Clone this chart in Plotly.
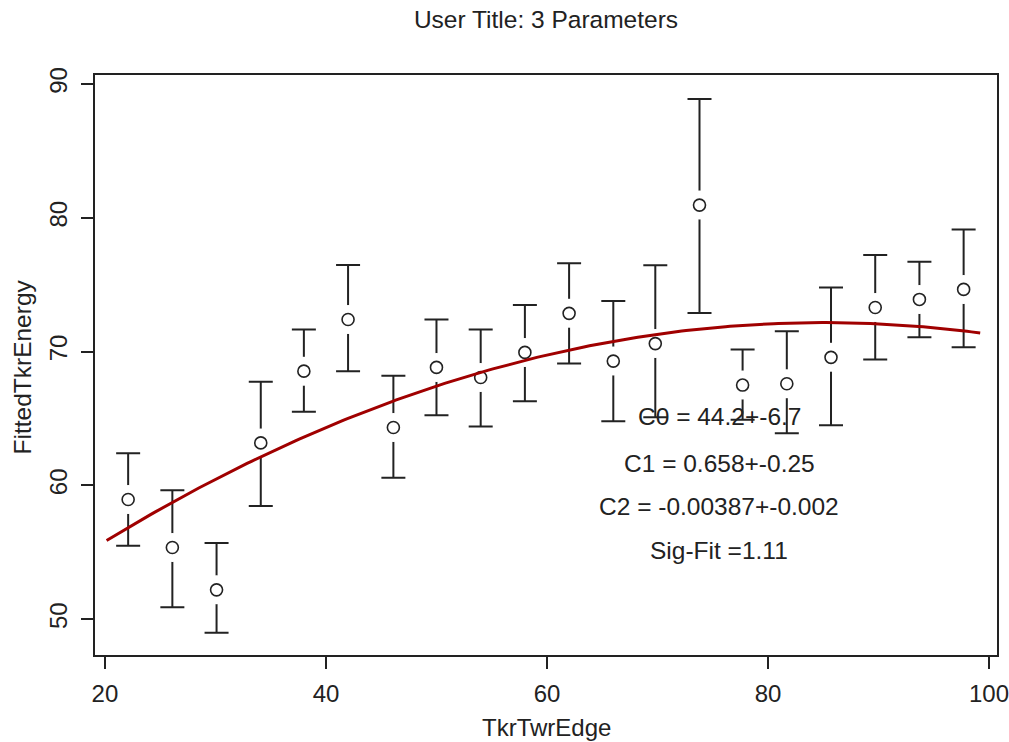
import numpy as np
import plotly.graph_objects as go

# Binned measurements with asymmetric error bars
edge = [22.1, 26.1, 30.1, 34.1, 38.0, 42.0, 46.1, 50.0, 54.0, 58.0,
        62.0, 66.0, 69.8, 73.8, 77.7, 81.7, 85.7, 89.7, 93.7, 97.7]
energy = [58.95, 55.36, 52.2, 63.18, 68.54, 72.4, 64.33, 68.82, 68.07, 69.94,
          72.86, 69.29, 70.6, 80.95, 67.5, 67.6, 69.57, 73.3, 73.9, 74.65]
energy_hi = [62.4, 59.65, 55.7, 67.74, 71.66, 76.47, 68.2, 72.4, 71.66, 73.48,
             76.6, 73.78, 76.45, 88.88, 70.16, 71.53, 74.8, 77.22, 76.72, 79.13]
energy_lo = [55.5, 50.9, 49.0, 58.47, 65.5, 68.54, 60.57, 65.25, 64.4, 66.3,
             69.12, 64.8, 65.1, 72.88, 64.9, 63.9, 64.5, 69.42, 71.08, 70.33]

# Quadratic fit parameters
c0, c1, c2 = 44.2, 0.658, -0.00387
fit_labels = ["C0 = 44.2+-6.7", "C1 = 0.658+-0.25",
              "C2 = -0.00387+-0.002", "Sig-Fit =1.11"]
fit_x_range = (20.15, 99.2)

x_ticks = [20, 40, 60, 80, 100]
y_ticks = [50, 60, 70, 80, 90]

FONT = "Liberation Sans, Arial, sans-serif"
INK = "#222222"

err_plus = [h - v for h, v in zip(energy_hi, energy)]
err_minus = [v - l for v, l in zip(energy, energy_lo)]

fx = np.linspace(fit_x_range[0], fit_x_range[1], 200)
fy = c0 + c1 * fx + c2 * fx ** 2

fig = go.Figure()

# error bars
fig.add_trace(go.Scatter(
    x=edge, y=energy, mode="markers",
    marker=dict(size=1, color="rgba(0,0,0,0)"),
    error_y=dict(type="data", symmetric=False, array=err_plus,
                 arrayminus=err_minus, color=INK, thickness=2, width=12),
    hoverinfo="skip", showlegend=False,
))
# white gap around each point
fig.add_trace(go.Scatter(
    x=edge, y=energy, mode="markers",
    marker=dict(size=29, color="white", line=dict(width=0)),
    hoverinfo="skip", showlegend=False,
))
# open circle markers
fig.add_trace(go.Scatter(
    x=edge, y=energy, mode="markers",
    marker=dict(size=12, color="white", line=dict(width=1.6, color=INK)),
    showlegend=False,
))
# fitted curve
fig.add_trace(go.Scatter(
    x=fx, y=fy, mode="lines",
    line=dict(color="#A00000", width=3),
    showlegend=False,
))

label_y = [65.13, 61.64, 58.4, 55.16]
for txt, ly in zip(fit_labels, label_y):
    fig.add_annotation(x=75.6, y=ly, xref="x", yref="y", text=txt,
                       showarrow=False, xanchor="center", yanchor="middle",
                       font=dict(family=FONT, size=24.5, color=INK))

PLOT_W, PLOT_H = 902, 580
fig.add_annotation(x=0.5, y=-72 / PLOT_H, xref="paper", yref="paper",
                   text="TkrTwrEdge", showarrow=False,
                   xanchor="center", yanchor="middle",
                   font=dict(family=FONT, size=24, color=INK))
fig.add_annotation(x=-73 / PLOT_W, y=(655 - 367.5) / PLOT_H, xref="paper", yref="paper",
                   text="FittedTkrEnergy", showarrow=False, textangle=-90,
                   xanchor="center", yanchor="middle",
                   font=dict(family=FONT, size=24.5, color=INK))

axis_common = dict(
    showgrid=False, zeroline=False, showline=True, mirror=True,
    linecolor=INK, linewidth=2, ticks="outside", ticklen=12,
    tickwidth=2, tickcolor=INK, automargin=False,
    ticklabeloverflow="allow",
    tickfont=dict(family=FONT, size=24, color=INK),
)

fig.update_layout(
    width=1009, height=742,
    margin=dict(l=95, r=12, t=75, b=87, autoexpand=False),
    paper_bgcolor="white", plot_bgcolor="white",
    title=dict(text="User Title: 3 Parameters", x=546 / 1009, xanchor="center",
               y=1 - 19 / 742, yanchor="middle", yref="container",
               font=dict(family=FONT, size=24.5, color=INK)),
    xaxis=dict(range=[19.1, 100.72], tickvals=x_ticks, ticklabelstandoff=4,
               **axis_common),
    yaxis=dict(range=[47.33, 90.67], tickvals=y_ticks, tickangle=-90,
               ticklabelstandoff=4, **axis_common),
)

fig.write_html("out.html")
